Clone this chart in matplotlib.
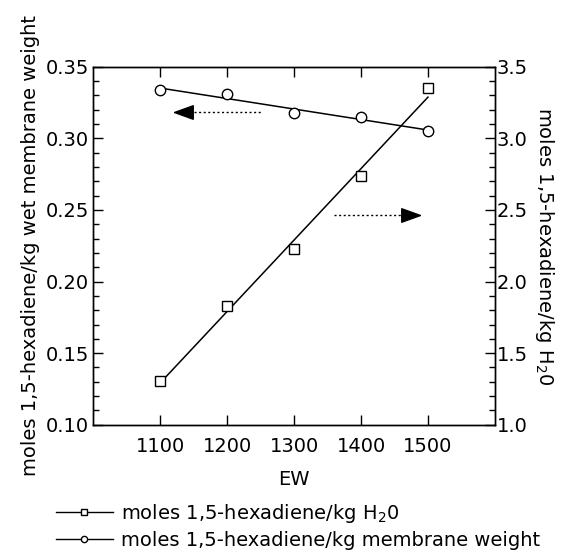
import matplotlib
matplotlib.use("Agg")
import matplotlib.pyplot as plt
import numpy as np
from matplotlib.ticker import MultipleLocator, FixedLocator, FormatStrFormatter
from matplotlib.lines import Line2D

plt.rcParams['font.family'] = ['DejaVu Sans']
plt.rcParams['mathtext.fontset'] = 'dejavusans'

ew = [1100, 1200, 1300, 1400, 1500]
membrane = [0.3338, 0.3307, 0.3178, 0.3147, 0.3052]   # left axis
water = [1.309, 1.831, 2.228, 2.736, 3.349]            # right axis
x_ticks = [1100, 1200, 1300, 1400, 1500]
left_label = "moles 1,5-hexadiene/kg wet membrane weight"
right_label = "moles 1,5-hexadiene/kg H$_2$0"
legend_water = "moles 1,5-hexadiene/kg H$_2$0"
legend_membrane = "moles 1,5-hexadiene/kg membrane weight"

fs = 14
fig = plt.figure(figsize=(5.63, 5.56), dpi=100)
ax = fig.add_axes([0.166, 0.236, 0.713, 0.644])
ax2 = ax.twinx()

x = np.array(ew, dtype=float)
# fitted lines
pm = np.polyfit(x, membrane, 1)
pw = np.polyfit(x, water, 1)
ax.plot(x, np.polyval(pm, x), color='black', lw=1.1, zorder=2)
ax2.plot(x, np.polyval(pw, x), color='black', lw=1.1, zorder=2)
ax.plot(x, membrane, ls='none', marker='o', ms=7.5, mfc='white', mec='black', mew=1.0, zorder=3)
ax2.plot(x, water, ls='none', marker='s', ms=7, mfc='white', mec='black', mew=1.0, zorder=3)

# arrows
ax.plot([1150, 1250], [0.3185, 0.3185], color='black', lw=1.0, ls=(0, (1.5, 1.8)))
ax.plot([1121], [0.3185], marker=[(0, 0), (1.0, 0.36), (1.0, -0.36), (0, 0)],
        ms=27, color='black', ls='none')
ax2.plot([1360, 1460], [2.464, 2.464], color='black', lw=1.0, ls=(0, (1.5, 1.8)))
ax2.plot([1487.5], [2.464], marker=[(0, 0), (-1.0, 0.36), (-1.0, -0.36), (0, 0)],
         ms=27, color='black', ls='none')

ax.set_xlim(1000, 1600)
ax.set_ylim(0.10, 0.35)
ax2.set_ylim(1.0, 3.5)
ax.xaxis.set_major_locator(FixedLocator(x_ticks))
ax.yaxis.set_major_locator(MultipleLocator(0.05))
ax.yaxis.set_minor_locator(MultipleLocator(0.01))
ax2.yaxis.set_major_locator(MultipleLocator(0.5))
ax2.yaxis.set_minor_locator(MultipleLocator(0.1))
ax.yaxis.set_major_formatter(FormatStrFormatter('%.2f'))
ax2.yaxis.set_major_formatter(FormatStrFormatter('%.1f'))

ax.tick_params(axis='x', which='both', direction='in', top=True, bottom=True,
               length=7, width=1, labelsize=fs, pad=9)
ax.tick_params(axis='y', which='major', direction='in', left=True, right=False,
               length=7, width=1, labelsize=fs, pad=3)
ax.tick_params(axis='y', which='minor', direction='in', left=True, right=False,
               length=4.5, width=1)
ax2.tick_params(axis='y', which='major', direction='in', right=True, left=False,
                length=7, width=1, labelsize=fs, pad=1.5)
ax2.tick_params(axis='y', which='minor', direction='in', right=True, left=False,
                length=4.5, width=1)
for a in (ax, ax2):
    for s in a.spines.values():
        s.set_linewidth(1.0)

ax.set_xlabel("EW", fontsize=fs, labelpad=10)
ax.set_ylabel(left_label, fontsize=fs, labelpad=4)
ax2.set_ylabel(right_label, fontsize=fs, rotation=-90, labelpad=20)

h1 = Line2D([], [], color='black', lw=1.0, marker='s', ms=4.5, mfc='white', mec='black', mew=1.0)
h2 = Line2D([], [], color='black', lw=1.0, marker='o', ms=4.5, mfc='white', mec='black', mew=1.0)
fig.legend([h1, h2], [legend_water, legend_membrane], loc='upper left',
           bbox_to_anchor=(0.100, 0.097), frameon=False, fontsize=fs,
           handlelength=2.9, handletextpad=0.45, labelspacing=0.3, borderpad=0, borderaxespad=0)

fig.savefig("out.png", dpi=100)
